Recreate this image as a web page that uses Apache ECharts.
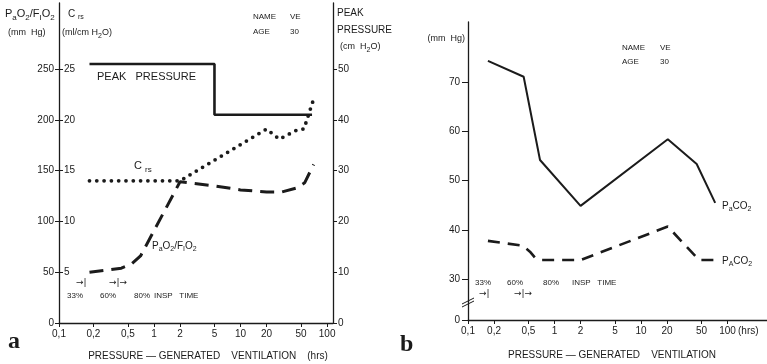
<!DOCTYPE html>
<html>
<head>
<meta charset="utf-8">
<script src="https://cdn.jsdelivr.net/npm/echarts@6/dist/echarts.min.js"></script>
<style>
  html, body { margin: 0; padding: 0; background: #fff; }
  #chart { width: 767px; height: 364px; }
</style>
</head>
<body>
<div id="chart"></div>
<script>
// ---- time axis (hours, logarithmic) ----
// panel a: the printed scale starts at its origin, where the 0,1 tick is drawn
const hourTicksA = [0.08, 0.2, 0.5, 1, 2, 5, 10, 20, 50, 100];
const hourTicksB = [0.1, 0.2, 0.5, 1, 2, 5, 10, 20, 50, 100];
const hourTickLabels = ['0,1', '0,2', '0,5', '1', '2', '5', '10', '20', '50', '100'];

// ---- panel a: value axes ----
const pfTicks = [0, 50, 100, 150, 200, 250];      // PaO2/FIO2 (mm Hg)
const crsTicks = [5, 10, 15, 20, 25];             // Crs (ml/cm H2O)
const peakTicks = [0, 10, 20, 30, 40, 50];        // peak pressure (cm H2O)

// ---- panel a: series ----
const peakHours = [0.18, 5, 5, 67];
const peakPressure = [51, 51, 41, 41];

const crsHours = [0.18, 2, 20, 28, 45, 54, 69];
const crsValues = [14, 14, 19.1, 18.1, 19.0, 19.1, 21.9];

const pfHours = [0.18, 0.42, 0.55, 0.7, 2, 5, 10, 20, 30, 45, 55, 70];
const pfValues = [50, 54, 58, 66, 139, 135, 131, 129, 129, 133, 138, 156];

// ---- panel b: value axis (mm Hg, broken below 30) ----
const mmHgTicks = [21.74, 30, 40, 50, 60, 70];
const mmHgTickLabels = ['0', '30', '40', '50', '60', '70'];

// ---- panel b: series ----
const paco2Hours = [0.17, 0.44, 0.68, 2, 20.4, 44, 72];
const paco2Values = [74.3, 71.1, 54.2, 44.9, 58.4, 53.4, 45.5];

const pAco2Hours = [0.17, 0.43, 0.52, 0.6, 0.7, 2, 20.4, 40, 47, 69];
const pAco2Values = [37.8, 36.8, 35.6, 34.3, 33.9, 33.9, 40.7, 35.2, 33.9, 33.9];

const ink = '#1b1b1b';
const FONT = 'Liberation Sans';
const L = Math.log10;
const pairs = (hs, vs) => hs.map((h, i) => [L(h), vs[i]]);

function labelFor(ticks, labels, v) {
  for (let i = 0; i < ticks.length; i++) {
    if (Math.abs(ticks[i] - v) < 1e-6) return labels[i];
  }
  return '';
}

const axisFont = { fontFamily: FONT, fontSize: 10, color: ink };
const axisLine = { show: true, onZero: false, lineStyle: { color: ink, width: 1.3 } };

function timeAxis(gridIndex, ticks, min, max) {
  const vals = ticks.map(L);
  return {
    gridIndex, type: 'value', min, max,
    axisLine,
    axisTick: { show: true, length: 4, customValues: vals, lineStyle: { color: ink, width: 1 } },
    axisLabel: Object.assign({ customValues: vals, margin: 6,
      formatter: v => labelFor(vals, hourTickLabels, v) }, axisFont),
    splitLine: { show: false }
  };
}

const rich = {
  m: { fontFamily: FONT, fontSize: 10, lineHeight: 14, verticalAlign: 'middle', fill: ink },
  s: { fontFamily: FONT, fontSize: 7, lineHeight: 6, verticalAlign: 'bottom', fill: ink },
  mb: { fontFamily: FONT, fontSize: 11, lineHeight: 15, verticalAlign: 'middle', fill: ink },
  sb: { fontFamily: FONT, fontSize: 8, lineHeight: 6, verticalAlign: 'bottom', fill: ink },
  ms: { fontFamily: FONT, fontSize: 9, lineHeight: 13, verticalAlign: 'middle', fill: ink }
};

function txt(x, y, text, size, extra) {
  return {
    type: 'text', x, y, silent: true,
    style: Object.assign({ text, fill: ink, font: (size || 10) + 'px "' + FONT + '"',
      textAlign: 'left', textVerticalAlign: 'middle', rich }, extra || {})
  };
}

const chart = echarts.init(document.getElementById('chart'));

const option = {
  animation: false,
  backgroundColor: '#ffffff',
  grid: [
    { left: 59, top: 3, width: 274, height: 320, outerBoundsMode: 'none' },
    { left: 468, top: 22, right: 0, height: 298, outerBoundsMode: 'none' }
  ],
  xAxis: [
    timeAxis(0, hourTicksA, L(0.08), L(117)),
    timeAxis(1, hourTicksB, L(0.1), L(286))
  ],
  yAxis: [
    { // PaO2/FIO2
      gridIndex: 0, type: 'value', min: 0, max: 315, position: 'left',
      axisLine,
      axisTick: { show: true, length: 4, customValues: pfTicks, lineStyle: { color: ink } },
      axisLabel: Object.assign({ customValues: pfTicks, margin: 5 }, axisFont),
      splitLine: { show: false }
    },
    { // Crs
      gridIndex: 0, type: 'value', min: 0, max: 31.5, position: 'left',
      axisLine: { show: false, onZero: false },
      axisTick: { show: true, inside: true, length: 4, customValues: crsTicks, lineStyle: { color: ink } },
      axisLabel: Object.assign({ inside: true, customValues: crsTicks, margin: 5 }, axisFont),
      splitLine: { show: false }
    },
    { // peak pressure
      gridIndex: 0, type: 'value', min: 0, max: 63, position: 'right',
      axisLine,
      axisTick: { show: true, length: 4, customValues: peakTicks, lineStyle: { color: ink } },
      axisLabel: Object.assign({ customValues: peakTicks, margin: 5 }, axisFont),
      splitLine: { show: false }
    },
    { // mm Hg
      gridIndex: 1, type: 'value', min: 21.74, max: 82.2, position: 'left',
      axisLine,
      axisTick: { show: true, length: 6, customValues: mmHgTicks, lineStyle: { color: ink } },
      axisLabel: Object.assign({ customValues: mmHgTicks, margin: 8,
        formatter: v => labelFor(mmHgTicks, mmHgTickLabels, v) }, axisFont),
      splitLine: { show: false }
    }
  ],
  series: [
    {
      name: 'Peak pressure', type: 'line', xAxisIndex: 0, yAxisIndex: 2,
      data: pairs(peakHours, peakPressure), symbol: 'none',
      lineStyle: { color: ink, width: 2.6 }
    },
    {
      name: 'Crs', type: 'line', xAxisIndex: 0, yAxisIndex: 1,
      data: pairs(crsHours, crsValues), symbol: 'none',
      lineStyle: { color: ink, width: 3.8, type: [0, 7.3], cap: 'round' }
    },
    {
      name: 'PaO2/FIO2', type: 'line', xAxisIndex: 0, yAxisIndex: 0,
      data: pairs(pfHours, pfValues), symbol: 'none',
      lineStyle: { color: ink, width: 3, type: [14, 8] }
    },
    {
      name: 'PaCO2', type: 'line', xAxisIndex: 1, yAxisIndex: 3,
      data: pairs(paco2Hours, paco2Values), symbol: 'none',
      lineStyle: { color: ink, width: 2 }
    },
    {
      name: 'PACO2', type: 'line', xAxisIndex: 1, yAxisIndex: 3,
      data: pairs(pAco2Hours, pAco2Values), symbol: 'none',
      lineStyle: { color: ink, width: 2.6, type: [12, 8] }
    }
  ],
  graphic: [
    // panel a: axis headings
    txt(5, 14, '{mb|P}{sb|a}{mb|O}{sb|2}{mb|/F}{sb|I}{mb|O}{sb|2}'),
    txt(8, 33, '(mm  Hg)', 9),
    txt(68, 14, '{m|C }{s|rs}'),
    txt(62, 33, '{ms|(ml/cm H}{s|2}{ms|O)}'),
    txt(337, 13, 'PEAK', 10),
    txt(337, 30, 'PRESSURE', 10),
    txt(340, 47, '{ms|(cm  H}{s|2}{ms|O)}'),
    txt(253, 17, 'NAME', 8), txt(290, 17, 'VE', 8),
    txt(253, 32, 'AGE', 8), txt(290, 32, '30', 8),
    // panel a: series labels
    txt(97, 77, 'PEAK   PRESSURE', 11),
    txt(134, 166, '{mb|C }{sb|rs}'),
    txt(152, 246, '{m|P}{s|a}{m|O}{s|2}{m|/F}{s|I}{m|O}{s|2}'),
    txt(76, 283, '→|', 9, { font: '9px "DejaVu Sans"' }),
    txt(109, 283, '→|→', 9, { font: '9px "DejaVu Sans"' }),
    txt(67, 296, '33%', 8), txt(100, 296, '60%', 8), txt(134, 296, '80%', 8),
    txt(154, 296, 'INSP   TIME', 8),
    txt(208, 356, 'PRESSURE — GENERATED    VENTILATION    (hrs)', 10, { textAlign: 'center' }),
    txt(8, 342, 'a', 24, { font: 'bold 24px "Liberation Serif"' }),

    // panel b
    txt(465, 39, '(mm  Hg)', 9, { textAlign: 'right' }),
    txt(622, 48, 'NAME', 8), txt(660, 48, 'VE', 8),
    txt(622, 62, 'AGE', 8), txt(660, 62, '30', 8),
    txt(722, 206, '{m|P}{s|a}{m|CO}{s|2}'),
    txt(722, 261, '{m|P}{s|A}{m|CO}{s|2}'),
    txt(475, 283, '33%', 8), txt(507, 283, '60%', 8), txt(543, 283, '80%', 8),
    txt(572, 283, 'INSP   TIME', 8),
    txt(479, 294, '→|', 9, { font: '9px "DejaVu Sans"' }),
    txt(514, 294, '→|→', 9, { font: '9px "DejaVu Sans"' }),
    txt(738, 331, '(hrs)', 10),
    txt(612, 355, 'PRESSURE — GENERATED    VENTILATION', 10, { textAlign: 'center' }),
    txt(400, 345, 'b', 24, { font: 'bold 24px "Liberation Serif"' }),
    // axis break on the mm Hg scale
    { type: 'line', silent: true, shape: { x1: 462, y1: 304, x2: 474, y2: 298 }, style: { stroke: ink, lineWidth: 1 } },
    { type: 'line', silent: true, shape: { x1: 462, y1: 307, x2: 474, y2: 301 }, style: { stroke: ink, lineWidth: 1 } }
  ]
};

chart.setOption(option);
</script>
</body>
</html>
